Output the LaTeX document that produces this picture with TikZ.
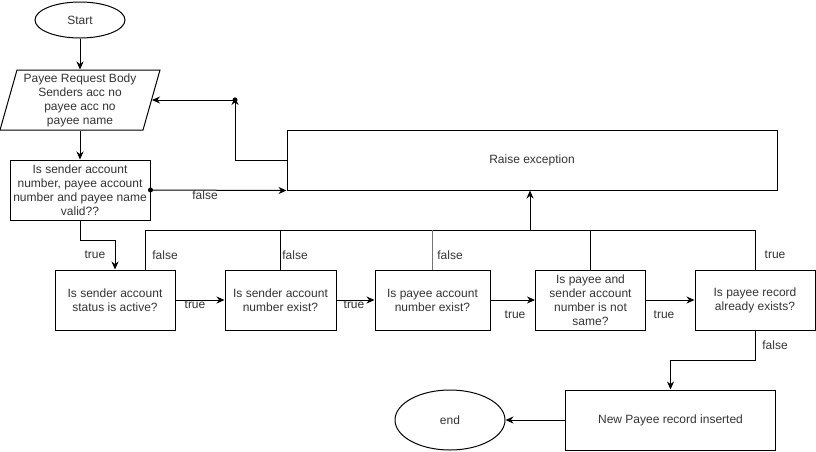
\documentclass[tikz,border=0pt]{standalone}
\usepackage{fontspec}
\setmainfont{Liberation Sans}
\usetikzlibrary{shapes.geometric,arrows.meta}
\begin{document}
\begin{tikzpicture}[x=1pt,y=-1pt,
  every node/.style={font=\fontsize{12}{14}\selectfont, text=black!80},
  box/.style={draw, rectangle, align=center, minimum height=60pt, inner sep=2pt, text=black!80},
  term/.style={draw, ellipse, align=center, inner sep=0pt},
  lbl/.style={inner sep=1pt},
  arr/.style={-{Stealth[length=8pt,width=7pt]}},
  line width=1pt]
\useasboundingbox (0,0) rectangle (816,451);
% nodes
\node[term, minimum width=90pt, minimum height=36pt] (start) at (80,20) {Start};
\node[align=center, minimum width=143pt, minimum height=60pt, inner sep=0pt] (req) at (80,100) {Payee Request Body\\Senders acc no\\payee acc no\\payee name};
\draw (17,70) -- (160,70) -- (143,130) -- (0,130) -- cycle;
\node[box, minimum width=140pt] (v1) at (80,190) {Is sender account\\number, payee account\\number and payee name\\valid??};
\node[box, minimum width=490pt] (exc) at (532,160) {Raise exception};
\node[box, minimum width=120pt] (b2) at (115,300) {Is sender account\\status is active?};
\node[box, minimum width=111pt] (b3) at (280.5,300) {Is sender account\\number exist?};
\node[box, minimum width=115pt] (b4) at (432.5,300) {Is payee account\\number exist?};
\node[box, minimum width=110pt] (b5) at (590.5,300) {Is payee and\\sender account\\number is not\\same?};
\node[box, minimum width=120pt] (b6) at (755,300) {Is payee record\\already exists?};
\node[box, minimum width=210pt] (ins) at (670.5,420) {New Payee record inserted};
\node[term, minimum width=110pt, minimum height=60pt] (endn) at (450,420) {end};
\coordinate (j) at (235,100);
\coordinate (bus) at (530,230);
% connectors
\draw[arr] (start.south) -- (req.north);
\draw[arr] (req.south) -- (v1.north);
\draw[arr] (v1.east) -- (exc.south west);
\fill (v1.east) circle (2.5pt);
\draw[arr] (exc.west) -| ([yshift=3pt]j);
\fill (j) circle (2.5pt);
\draw[arr] (j) -- (req.east);
\draw[arr] (v1.south) -- ++(0,20) -| (b2.north);
\draw[arr] (b2.east) -- (b3.west);
\draw[arr] (b3.east) -- (b4.west);
\draw[arr] (b4.east) -- (b5.west);
\draw[arr] (b5.east) -- (b6.west);
\draw ([xshift=30pt]b2.north) -- ([xshift=30pt]b2.north |- bus) -- (b6.north |- bus) -- (b6.north);
\draw (b3.north) -- (b3.north |- bus);
\draw[black!55] (b4.north) -- (b4.north |- bus);
\draw (b5.north) -- (b5.north |- bus);
\draw[arr] (bus) -- (bus |- exc.south);
\draw[arr] (b6.south) -- ++(0,30) -| (ins.north);
\draw[arr] (ins.west) -- (endn.east);
% labels
\node[lbl] (l1) at (205,195) {false};
\node[lbl] (l2) at (95,255) {true};
\node[lbl] (l3) at (165,255) {false};
\node[lbl] (l4) at (295,255) {false};
\node[lbl] (l5) at (450,255) {false};
\node[lbl] (l6) at (775,255) {true};
\node[lbl] (l7) at (195,305) {true};
\node[lbl] (l8) at (354,305) {true};
\node[lbl] (l9) at (515,315) {true};
\node[lbl] (l10) at (664,315) {true};
\node[lbl] (l11) at (775,345) {false};
\end{tikzpicture}
\end{document}
